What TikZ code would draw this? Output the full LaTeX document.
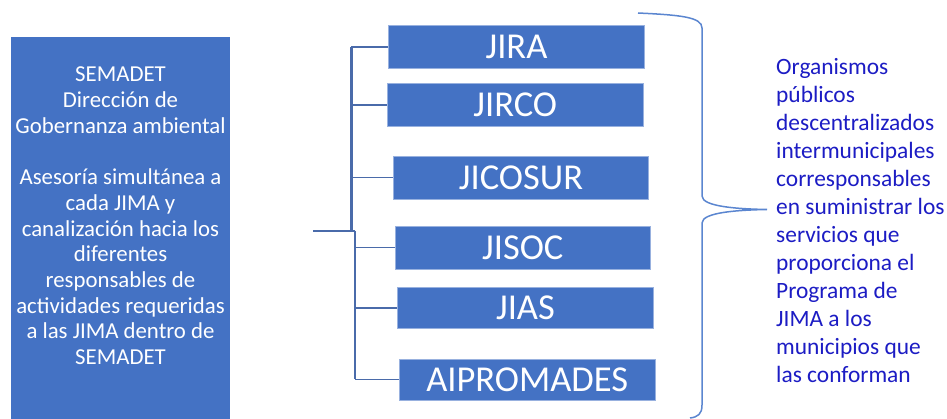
\documentclass[tikz,border=0pt]{standalone}
\usepackage{fontspec}
\setmainfont{Carlito}
\definecolor{boxblue}{HTML}{4472C4}
\definecolor{linecol}{HTML}{4A6BAA}
\definecolor{bracecol}{HTML}{5B86D0}
\definecolor{txtblue}{RGB}{28,28,196}
\begin{document}
\begin{tikzpicture}[x=1pt,y=-1pt]
\tikzset{
  jbox/.style={fill=boxblue, draw=boxblue!55!white, line width=0.8pt,
    minimum width=255.5pt, minimum height=43pt, inner sep=0pt, text=white,
    font=\fontsize{36.5}{40}\selectfont, text height=23.5pt, text depth=0pt},
  branch/.style={draw=linecol, line width=1.6pt},
  trunk/.style={draw=linecol, line width=3pt},
}
\useasboundingbox (0,0) rectangle (947,419);
\fill[white] (0,0) rectangle (947,419);
% left box
\node[fill=boxblue, minimum width=219pt, minimum height=384pt, inner sep=0pt, anchor=north west] (sem) at (11,37) {};
\node[text=white, align=center, font=\fontsize{22.8}{25.7}\selectfont, inner sep=0pt] (semtxt) at (120.5,216)
 {SEMADET\\Dirección de\\Gobernanza ambiental\\[25.7pt]Asesoría simultánea a\\cada JIMA y\\canalización hacia los\\diferentes\\responsables de\\actividades requeridas\\a las JIMA dentro de\\SEMADET};
% boxes
\node[jbox] (b1) at (516.5,47.2) {JIRA};
\node[jbox] (b2) at (515.3,105) {JIRCO};
\node[jbox] (b3) at (521,177.7) {JICOSUR};
\node[jbox] (b4) at (522.8,247.7) {JISOC};
\node[jbox, minimum height=41pt] (b5) at (525.5,307.8) {JIAS};
\node[jbox, minimum height=41pt] (b6) at (527.2,379.4) {AIPROMADES};
% connectors
\coordinate (feed) at (313,231);
\coordinate (ja) at (351,231);
\coordinate (jb) at (355,231);
\draw[trunk] (ja) -- (ja |- b1.west);
\draw[branch] (feed) -- (jb);
\draw[branch] (jb) -- (jb |- b6.west);
\draw[branch] (b1.west -| ja) -- (b1.west);
\draw[branch] (b2.west -| ja) -- (b2.west);
\draw[branch] (b3.west -| ja) -- (b3.west);
\draw[branch] (b4.west -| jb) -- (b4.west);
\draw[branch] (b5.west -| jb) -- (b5.west);
\draw[branch] (b6.west -| jb) -- (b6.west);
% brace
\draw[bracecol, line width=1.5pt] (638,13) .. controls (680,15) and (702,17) .. (702,28) -- (702,196)
  .. controls (702,207) and (740,209) .. (767,209.5)
  .. controls (740,210) and (702,212) .. (702,223) -- (702,405)
  .. controls (702,414) and (698,417) .. (690,418);
% right text
\node[text=txtblue, align=left, anchor=west, font=\fontsize{23.4}{28}\selectfont, inner sep=0pt] (desc) at (776,221)
 {Organismos\\públicos\\descentralizados\\intermunicipales\\corresponsables\\en suministrar los\\servicios que\\proporciona el\\Programa de\\JIMA a los\\municipios que\\las conforman};
\end{tikzpicture}
\end{document}
